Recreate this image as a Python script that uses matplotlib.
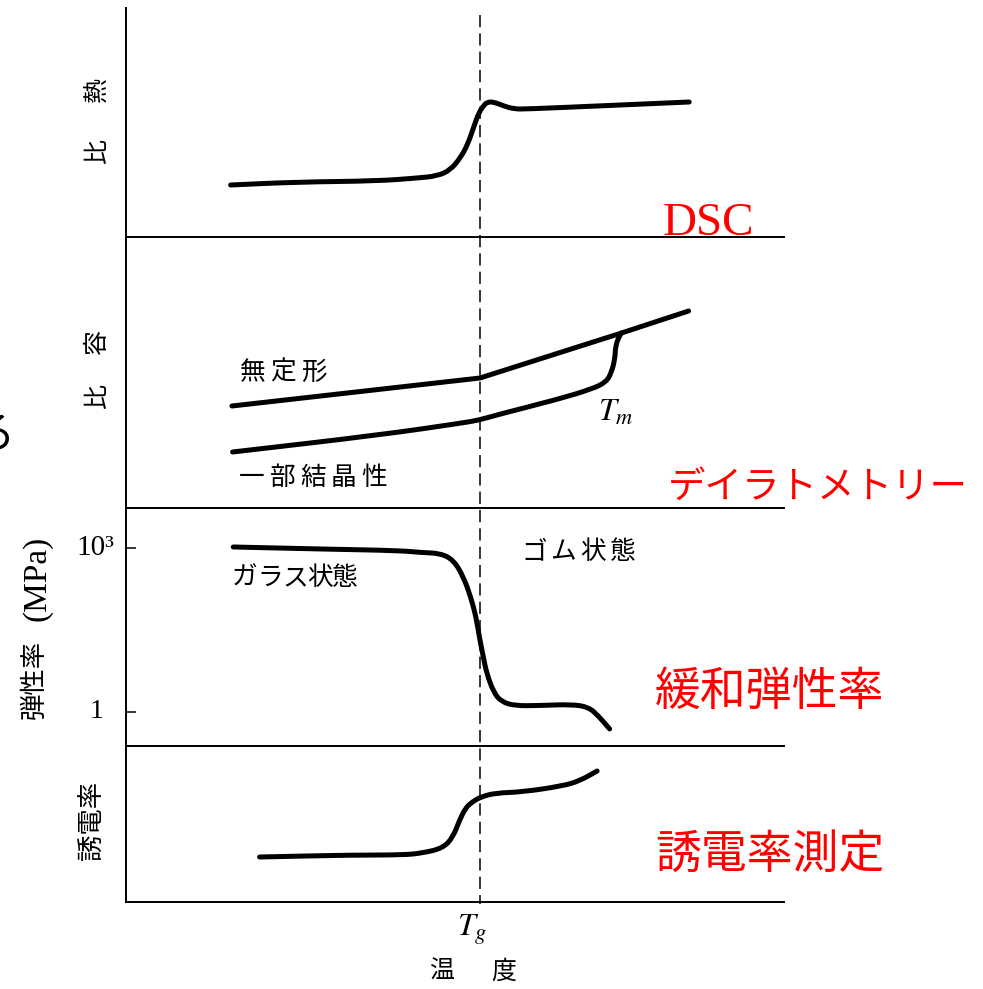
import matplotlib
matplotlib.use("Agg")
import matplotlib.pyplot as plt
from matplotlib.lines import Line2D
from matplotlib.path import Path
from matplotlib.patches import PathPatch
from matplotlib.transforms import blended_transform_factory

plt.rcParams["mathtext.fontset"] = "stix"

W, H = 983, 989
JP = ["Noto Sans CJK JP", "DejaVu Sans"]
RED = "#ff0000"

# Temperature axis (arbitrary units) and glass transition
T_RANGE = (0, 100)
TG = 53.8

# Specific heat (DSC), arbitrary units
dsc_T = [15.9, 26.1, 38.2, 44.3, 47.3, 49.3, 50.8, 51.9, 52.9, 53.6, 54.4,
         55.0, 55.9, 57.4, 59.0, 60.9, 71.6, 85.6]
dsc_cp = [0.52, 0.55, 0.56, 0.59, 0.61, 0.67, 0.79, 0.92, 1.11, 1.24, 1.32,
          1.35, 1.35, 1.31, 1.28, 1.28, 1.31, 1.35]

# Specific volume (dilatometry), arbitrary units
amor_T = [16.1, TG, 75.3, 85.5]
amor_v = [1.02, 1.30, 1.75, 1.97]
semi_T = [16.2, 38.5, 51.1, 53.7, 56.3, 65.8, 70.8, 73.0, 73.8, 74.3, 74.4,
          74.9, 75.3]
semi_v = [0.56, 0.73, 0.85, 0.88, 0.93, 1.09, 1.19, 1.26, 1.36, 1.49, 1.62,
          1.71, 1.75]

# Relaxation modulus (MPa)
mod_T = [16.3, 31.1, 41.7, 44.7, 47.8, 49.8, 51.3, 52.4, 53.2, 53.7, 54.3,
         54.8, 55.9, 57.1, 59.1, 62.7, 67.7, 70.3, 71.8, 73.5]
mod_E = [1035, 942, 889, 821, 793, 593, 291, 125, 54.2, 23.3, 10.1,
         5.13, 2.22, 1.52, 1.29, 1.30, 1.37, 1.22, 0.84, 0.486]
mod_ticks = [1000, 1]
mod_tick_labels = ["10³", "1"]

# Dielectric constant, arbitrary units
die_T = [20.3, 34.5, 42.1, 45.1, 48.2, 49.7, 50.7, 51.6, 52.6, 53.9, 56.1,
         60.2, 66.3, 68.9, 71.6]
die_eps = [0.45, 0.47, 0.47, 0.49, 0.54, 0.65, 0.82, 0.94, 1.00, 1.05, 1.09,
           1.10, 1.16, 1.21, 1.31]

fig = plt.figure(figsize=(W / 100, H / 100), dpi=100)
fig.patch.set_facecolor("white")

LEFT, RIGHT = 126, 784


def fx(px):
    return px / W


def fy(py):
    return 1 - py / H


def panel(top, bottom, ylim, log=False):
    ax = fig.add_axes([fx(LEFT), fy(bottom), fx(RIGHT) - fx(LEFT),
                       (bottom - top) / H])
    ax.set_xlim(*T_RANGE)
    if log:
        ax.set_yscale("log")
    ax.set_ylim(*ylim)
    for s in ("top", "right"):
        ax.spines[s].set_visible(False)
    for s in ("left", "bottom"):
        ax.spines[s].set_linewidth(1.4)
        ax.spines[s].set_color("black")
    ax.set_xticks([])
    ax.set_yticks([])
    ax.patch.set_alpha(0)
    return ax


CURVE = dict(color="black", lw=3.6, capstyle="round", joinstyle="round")


def smooth_curve(ax, xs, ys):
    """Draw a rounded curve: quadratic Bezier pieces with the data points as
    control points, joined at the midpoints between neighbouring points."""
    pts = list(zip(xs, ys))
    verts = [pts[0]]
    codes = [Path.MOVETO]
    mid = lambda a, b: ((a[0] + b[0]) / 2, (a[1] + b[1]) / 2)
    if ax.get_yscale() == "log":
        mid = lambda a, b: ((a[0] + b[0]) / 2, (a[1] * b[1]) ** 0.5)
    verts.append(mid(pts[0], pts[1]))
    codes.append(Path.LINETO)
    for i in range(1, len(pts) - 1):
        verts += [pts[i], mid(pts[i], pts[i + 1])]
        codes += [Path.CURVE3, Path.CURVE3]
    verts.append(pts[-1])
    codes.append(Path.LINETO)
    ax.add_patch(PathPatch(Path(verts, codes), fill=False, **CURVE))


ax1 = panel(8, 237, (0, 2.29))
smooth_curve(ax1, dsc_T, dsc_cp)

ax2 = panel(237, 508, (0, 2.71))
ax2.plot(amor_T, amor_v, color="black", lw=3.6, solid_capstyle="round",
         solid_joinstyle="round")
smooth_curve(ax2, semi_T, semi_v)

ax3 = panel(508, 746, (0.237, 5346), log=True)
smooth_curve(ax3, mod_T, mod_E)
ax3.set_yticks(mod_ticks)
ax3.set_yticklabels([])
ax3.yaxis.set_minor_locator(matplotlib.ticker.NullLocator())
ax3.tick_params(axis="y", direction="in", length=7, width=1.1)
ytr = blended_transform_factory(fig.transFigure, ax3.transData)
ax3.text(fx(114), mod_ticks[0], mod_tick_labels[0], transform=ytr,
         ha="right", va="center", fontsize=21, family="Liberation Serif")
ax3.text(fx(103), mod_ticks[1], mod_tick_labels[1], transform=ytr,
         ha="right", va="center", fontsize=20, family="Liberation Serif")

ax4 = panel(746, 902, (0, 1.56))
smooth_curve(ax4, die_T, die_eps)

# Glass transition marker through all panels
vtr = blended_transform_factory(ax4.transData, fig.transFigure)
fig.add_artist(Line2D([TG, TG], [fy(15), fy(904)], transform=vtr,
                      color="black", lw=1.1, dashes=(8, 4)))


def ftext(x, y, s, **kw):
    fig.text(fx(x), fy(y), s, **kw)


def spaced(x, y, s, pitch, **kw):
    for i, ch in enumerate(s):
        ftext(x + i * pitch, y, ch, ha="left", va="center", **kw)


# Axis captions
ftext(97, 89, "熱", rotation=90, ha="center", va="center", fontsize=18, family=JP)
ftext(97, 151, "比", rotation=90, ha="center", va="center", fontsize=18, family=JP)
ftext(97, 341, "容", rotation=90, ha="center", va="center", fontsize=18, family=JP)
ftext(97, 396, "比", rotation=90, ha="center", va="center", fontsize=18, family=JP)
ftext(34, 679, "弾性率", rotation=90, ha="center", va="center",
      fontsize=19, family=JP)
ftext(37, 578, "(MPa)", rotation=90, ha="center", va="center",
      fontsize=24, family="Liberation Serif")
ftext(92, 820, "誘電率", rotation=90, ha="center", va="center", fontsize=19, family=JP)

ftext(472, 930, "$T_g$", ha="center", va="center", fontsize=23)
ftext(442, 972, "温", ha="center", va="center", fontsize=18, family=JP)
ftext(504, 972, "度", ha="center", va="center", fontsize=18, family=JP)

# Curve annotations
spaced(240, 373, "無定形", 30.5, fontsize=18.5, family=JP)
spaced(239, 478, "一部結晶性", 30.5, fontsize=18.5, family=JP)
ftext(598, 412, "$T_m$", ha="left", va="center", fontsize=23)
spaced(232, 578, "ガラス状態", 25, fontsize=18.5, family=JP)
spaced(521, 552, "ゴム状態", 29.5, fontsize=18.5, family=JP)

# Method names
ftext(663, 235, "DSC", ha="left", va="baseline", fontsize=34,
      family="Liberation Serif", color=RED)
ftext(668, 487, "デイラトメトリー", ha="left", va="center", fontsize=27,
      family=JP, color=RED)
ftext(655, 692, "緩和弾性率", ha="left", va="center", fontsize=33,
      family=JP, color=RED)
ftext(655, 855, "誘電率測定", ha="left", va="center", fontsize=33,
      family=JP, color=RED)

ftext(15, 435, "る", ha="right", va="center", fontsize=32, family=JP)

fig.savefig("out.png", dpi=100, facecolor="white")
